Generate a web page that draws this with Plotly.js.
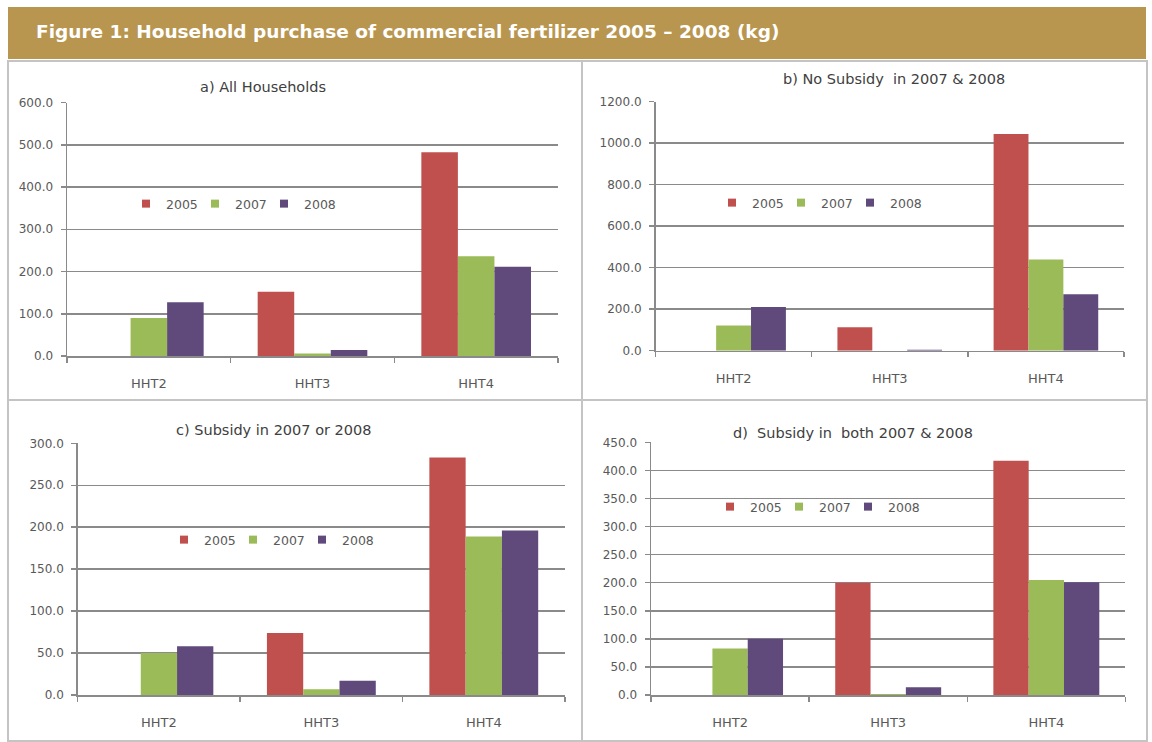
<!DOCTYPE html>
<html>
<head>
<meta charset="utf-8">
<script src="https://cdn.plot.ly/plotly-3.0.1.min.js"></script>
<style>
  html, body { margin: 0; padding: 0; background: #ffffff; }
  #chart { width: 1152px; height: 742px; }
</style>
</head>
<body>
<div id="chart"></div>
<script>
// ---- Data ----
const categories = ['HHT2', 'HHT3', 'HHT4'];
const seriesNames = ['2005', '2007', '2008'];

const panelTitles = [
  'a) All Households',
  'b) No Subsidy  in 2007 & 2008',
  'c) Subsidy in 2007 or 2008',
  'd)  Subsidy in  both 2007 & 2008'
];

const allHouseholds2005 = [0, 152, 482];
const allHouseholds2007 = [90, 6, 236];
const allHouseholds2008 = [127, 14, 211];

const noSubsidy2005 = [0, 113, 1044];
const noSubsidy2007 = [122, 0, 440];
const noSubsidy2008 = [210, 5, 272];

const subsidyEither2005 = [0, 74, 283];
const subsidyEither2007 = [50, 7, 189];
const subsidyEither2008 = [58, 17, 196];

const subsidyBoth2005 = [0, 200, 417];
const subsidyBoth2007 = [83, 2, 205];
const subsidyBoth2008 = [100, 14, 201];

const yMax = [600, 1200, 300, 450];
const yStep = [100, 200, 50, 50];

const headerTitle = 'Figure 1: Household purchase of commercial fertilizer 2005 \u2013 2008 (kg)';

// ---- Styling / layout ----
const W = 1152, H = 742;
const colors = ['#c0504d', '#9bbb59', '#5f4a7b'];
const gridColor = '#8a8a8a';
const textColor = '#595959';
const FONT = 'DejaVu Sans, sans-serif';

const px = v => v / W;
const py = v => 1 - v / H;

// plot areas in pixels: [left, right, top(max), bottom(zero)]
const areas = [
  [67, 558, 102.5, 356],
  [655.5, 1124, 101.7, 350.7],
  [77.7, 565, 443.3, 695],
  [651, 1125.4, 442.3, 695]
];
const titlePos = [[263, 87], [894, 79], [274, 430], [853, 433]];
const legendPos = [[146, 204], [732, 203], [184, 540], [730, 507]];
const panelBoxes = [
  [8, 61, 582, 400],
  [582, 61, 1147, 400],
  [8, 400, 582, 741],
  [582, 400, 1147, 741]
];

const panelData = [
  [allHouseholds2005, allHouseholds2007, allHouseholds2008],
  [noSubsidy2005, noSubsidy2007, noSubsidy2008],
  [subsidyEither2005, subsidyEither2007, subsidyEither2008],
  [subsidyBoth2005, subsidyBoth2007, subsidyBoth2008]
];

const traces = [];
const layout = {
  width: W, height: H,
  margin: {l: 0, r: 0, t: 0, b: 0},
  paper_bgcolor: '#ffffff',
  plot_bgcolor: '#ffffff',
  barmode: 'group',
  bargap: 0.33,
  bargroupgap: 0,
  font: {family: FONT, size: 12, color: textColor},
  shapes: [],
  annotations: []
};

// header
layout.shapes.push({
  type: 'rect', xref: 'paper', yref: 'paper',
  x0: px(8), x1: px(1146), y0: py(59), y1: py(7),
  fillcolor: '#b8964f', line: {width: 0}, layer: 'below'
});
layout.annotations.push({
  xref: 'paper', yref: 'paper', x: px(34), y: py(32),
  xanchor: 'left', yanchor: 'middle', showarrow: false,
  text: '<b>' + headerTitle + '</b>',
  font: {family: 'DejaVu Sans, sans-serif', size: 18.5, color: '#ffffff'}
});

panelData.forEach((series, p) => {
  const n = p === 0 ? '' : String(p + 1);
  const xa = 'x' + n, ya = 'y' + n;
  const legendName = p === 0 ? 'legend' : 'legend' + (p + 1);
  series.forEach((vals, s) => {
    traces.push({
      type: 'bar', x: categories, y: vals, name: seriesNames[s],
      xaxis: xa, yaxis: ya,
      marker: {color: colors[s], line: {width: 0}},
      showlegend: false, hoverinfo: 'x+y+name'
    });
    // legend entry (small square markers like the original)
    traces.push({
      type: 'scatter', mode: 'markers', x: [null], y: [null], name: seriesNames[s],
      xaxis: xa, yaxis: ya, legend: legendName,
      marker: {symbol: 'square', size: 8, color: colors[s]},
      showlegend: true, hoverinfo: 'skip'
    });
  });
  // invisible spacer entry so the last legend label is not clipped
  traces.push({
    type: 'scatter', mode: 'markers', x: [null], y: [null], name: '\u00a0',
    xaxis: xa, yaxis: ya, legend: legendName,
    marker: {symbol: 'square', size: 1, color: 'rgba(0,0,0,0)'},
    showlegend: true, hoverinfo: 'skip'
  });

  const [l, r, t, b] = areas[p];
  layout['xaxis' + n] = {
    domain: [px(l), px(r)], anchor: ya,
    type: 'category', range: [-0.5, 2.5], fixedrange: true,
    showline: true, linecolor: gridColor, linewidth: 1.5,
    showgrid: false, zeroline: false,
    ticks: 'outside', tickson: 'boundaries', ticklen: 5, tickcolor: gridColor, tickwidth: 1.5,
    ticklabelstandoff: 15,
    tickfont: {family: FONT, size: 13, color: textColor}
  };
  layout['yaxis' + n] = {
    domain: [py(b), py(t)], anchor: xa,
    range: [0, yMax[p]], dtick: yStep[p], tick0: 0, fixedrange: true,
    tickformat: '.1f',
    showline: true, linecolor: gridColor, linewidth: 1.5,
    showgrid: true, gridcolor: gridColor, gridwidth: 1.5,
    zeroline: false,
    ticks: 'outside', ticklen: 5, tickcolor: gridColor, tickwidth: 1.5,
    ticklabelstandoff: 5,
    tickfont: {family: FONT, size: 12, color: textColor}
  };
  layout[legendName] = {
    orientation: 'h', x: px(legendPos[p][0] - 20), y: py(legendPos[p][1]),
    xanchor: 'left', yanchor: 'middle', xref: 'paper', yref: 'paper',
    bgcolor: 'rgba(0,0,0,0)', borderwidth: 0,
    entrywidth: 24, entrywidthmode: 'pixels', itemwidth: 30,
    font: {family: FONT, size: 12.5, color: textColor}
  };
  layout.annotations.push({
    xref: 'paper', yref: 'paper', x: px(titlePos[p][0]), y: py(titlePos[p][1]),
    xanchor: 'center', yanchor: 'middle', showarrow: false,
    text: panelTitles[p], font: {family: FONT, size: 14.5, color: '#404040'}
  });
  const bx = panelBoxes[p];
  layout.shapes.push({
    type: 'rect', xref: 'paper', yref: 'paper',
    x0: px(bx[0]), x1: px(bx[2]), y0: py(bx[3]), y1: py(bx[1]),
    line: {color: '#c4c4c4', width: 2}, fillcolor: 'rgba(0,0,0,0)', layer: 'below'
  });
});

Plotly.newPlot('chart', traces, layout, {displayModeBar: false, staticPlot: true});
</script>
</body>
</html>
